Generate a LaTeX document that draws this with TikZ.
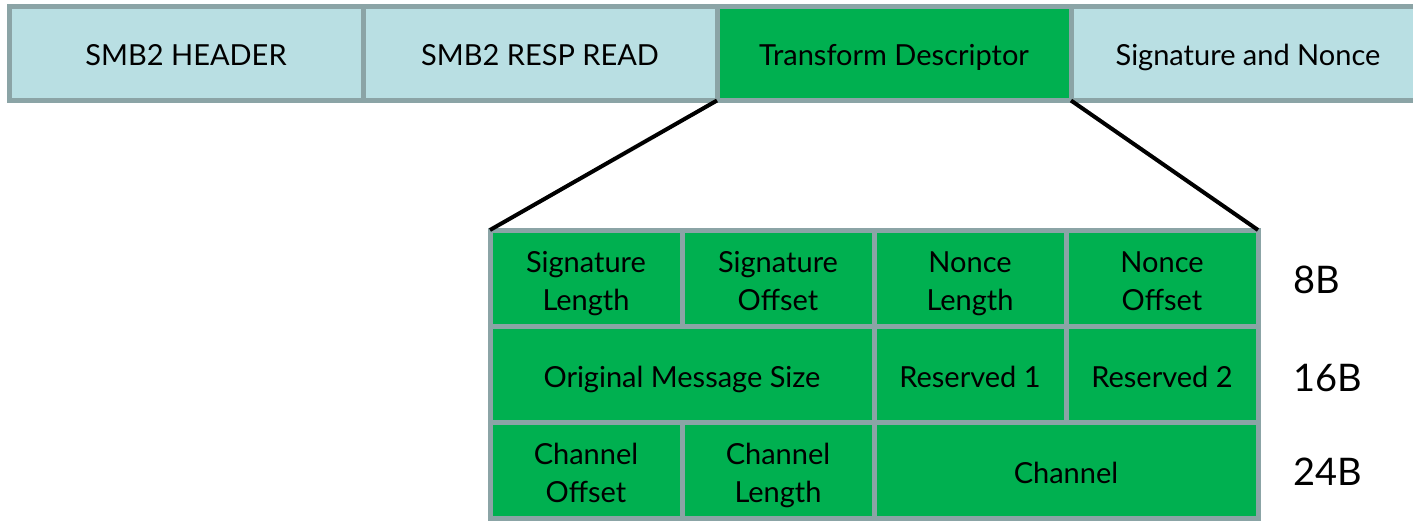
\documentclass[tikz,border=0pt]{standalone}
\usepackage{fontspec}
\setmainfont{Lato}
\usetikzlibrary{positioning}
\definecolor{hdrblue}{RGB}{185,223,227}
\definecolor{fldgreen}{RGB}{0,176,80}
\definecolor{gridgray}{RGB}{139,164,166}
\newcommand{\fieldtext}[1]{\rule{0pt}{39pt}#1\rule[-11.4pt]{0pt}{11.4pt}}
\tikzstyle{hdr} = [rectangle, draw=gridgray, line width=5pt, fill=hdrblue,
    minimum width=354pt, minimum height=94pt, outer sep=0pt,
    text height=27pt, text depth=3pt, font=\fontsize{29}{35}\selectfont]
\tikzstyle{fld} = [rectangle, draw=gridgray, line width=5pt, fill=fldgreen,
    minimum width=192pt, minimum height=96pt, outer sep=0pt, align=center,
    font=\fontsize{29}{38}\selectfont]
\tikzstyle{wide} = [fld, minimum width=384pt]
\tikzstyle{size} = [anchor=west, font=\fontsize{38}{44}\selectfont]
\tikzstyle{zoom} = [draw, line width=4pt]

\begin{document}
\begin{tikzpicture}[x=1pt, y=-1pt, node distance=354pt]
    \useasboundingbox (0,0) rectangle (1413,522);
    % Place packet
    \node[hdr] (hdr) at (186,53.5) {SMB2 HEADER};
    \node[hdr, right of=hdr] (resp) {SMB2 RESP READ};
    \node[hdr, right of=resp, fill=fldgreen] (td) {Transform Descriptor};
    \node[hdr, right of=td] (sig) {Signature and Nonce};
    % Place descriptor fields
    \node[fld] (siglen) at (586,278) {\fieldtext{Signature\\Length}};
    \node[fld, right=0pt of siglen] (sigoff) {\fieldtext{Signature\\Offset}};
    \node[fld, right=0pt of sigoff] (noncelen) {\fieldtext{Nonce\\Length}};
    \node[fld, right=0pt of noncelen] (nonceoff) {\fieldtext{Nonce\\Offset}};
    \node[wide, below=0pt of siglen.south west, anchor=north west] (origsize) {\fieldtext{Original Message Size}};
    \node[fld, right=0pt of origsize] (res1) {\fieldtext{Reserved 1}};
    \node[fld, right=0pt of res1] (res2) {\fieldtext{Reserved 2}};
    \node[fld, below=0pt of origsize.south west, anchor=north west] (chanoff) {\fieldtext{Channel\\Offset}};
    \node[fld, right=0pt of chanoff] (chanlen) {\fieldtext{Channel\\Length}};
    \node[wide, right=0pt of chanlen] (chan) {\fieldtext{Channel}};
    % Sizes
    \node[size] (s8) at (1290,280) {8B};
    \node[size] (s16) at (1290,378) {16B};
    \node[size] (s24) at (1290,472) {24B};
    % Draw zoom lines
    \draw[zoom] (td.south west) -- (siglen.north west);
    \draw[zoom] (td.south east) -- (nonceoff.north east);
\end{tikzpicture}
\end{document}
